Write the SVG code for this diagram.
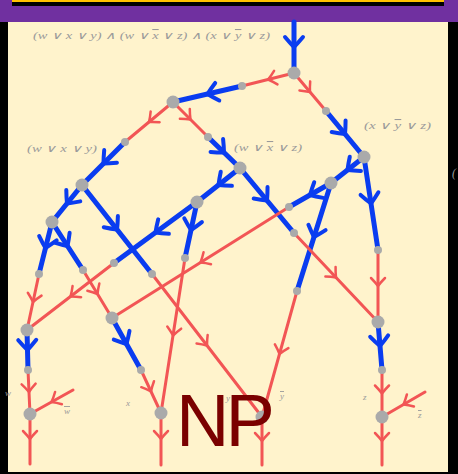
<svg xmlns="http://www.w3.org/2000/svg" width="458" height="474" viewBox="0 0 458 474">
<style>
.b{fill:none;stroke:#0a3cf0;stroke-width:5;stroke-linecap:round;marker-mid:url(#ab)}
.r{fill:none;stroke:#f25555;stroke-width:3;stroke-linecap:round;marker-mid:url(#ar)}
.n{fill:#aaaaaa}
.lab{font-family:"Liberation Serif",serif;font-style:italic;fill:#9a9a9a}
.o{text-decoration:overline}
</style>
<defs>
<marker id="ab" markerUnits="userSpaceOnUse" markerWidth="20" markerHeight="20" refX="0" refY="0" orient="auto" overflow="visible">
<path d="M-10,-9 Q-4,-4 0,0 Q-4,4 -10,9" fill="none" stroke="#0a3cf0" stroke-width="4" stroke-linecap="round"/>
</marker>
<marker id="ar" markerUnits="userSpaceOnUse" markerWidth="20" markerHeight="20" refX="0" refY="0" orient="auto" overflow="visible">
<path d="M-8,-7 Q-4,-3 0,0 Q-4,3 -8,7" fill="none" stroke="#f25555" stroke-width="2.5" stroke-linecap="round"/>
</marker>
</defs>
<rect width="458" height="474" fill="#000"/>
<rect x="0" y="0" width="458" height="22" fill="#7030a0"/>
<rect x="12" y="0" width="432" height="6" fill="#000"/>
<rect x="12" y="0" width="432" height="2" fill="#ffc000"/>
<rect x="8" y="22" width="440" height="450" fill="#fff3cc"/>

<g id="connectors">
<polyline class="b" points="294,22 294,47 294,73"/>
<polyline class="b" points="242,86 207.5,94 173,102"/>
<polyline class="b" points="326,111 345,134 364,157"/>
<polyline class="b" points="125,142 103.5,163.5 82,185"/>
<polyline class="b" points="208,137 224,152.5 240,168"/>
<polyline class="b" points="364,157 347.5,170 331,183"/>
<polyline class="b" points="331,183 310,195 289,207"/>
<polyline class="b" points="364,157 371,203.5 378,250"/>
<polyline class="b" points="331,183 314,237 297,291"/>
<polyline class="b" points="240,168 267,200.5 294,233"/>
<polyline class="b" points="240,168 218.5,185 197,202"/>
<polyline class="b" points="197,202 155.5,232.5 114,263"/>
<polyline class="b" points="197,202 191,230 185,258"/>
<polyline class="b" points="82,185 67,203.5 52,222"/>
<polyline class="b" points="82,185 117,229.5 152,274"/>
<polyline class="b" points="52,222 45.5,248 39,274"/>
<polyline class="b" points="52,222 67.5,246 83,270"/>
<polyline class="b" points="27,330 27.5,350 28,370"/>
<polyline class="b" points="112,318 126.5,344 141,370"/>
<polyline class="b" points="378,322 380,346 382,370"/>

<polyline class="r" points="294,73 268,79.5 242,86"/>
<polyline class="r" points="294,73 310,92 326,111"/>
<polyline class="r" points="173,102 149,122 125,142"/>
<polyline class="r" points="173,102 190.5,119.5 208,137"/>
<polyline class="r" points="289,207 200.5,262.5 112,318"/>
<polyline class="r" points="378,250 378,286 378,322"/>
<polyline class="r" points="297,291 279.5,354 262,417"/>
<polyline class="r" points="294,233 336,277.5 378,322"/>
<polyline class="r" points="114,263 70.5,296.5 27,330"/>
<polyline class="r" points="185,258 173,335.5 161,413"/>
<polyline class="r" points="152,274 207,345.5 262,417"/>
<polyline class="r" points="39,274 33,302 27,330"/>
<polyline class="r" points="83,270 97.5,294 112,318"/>
<polyline class="r" points="28,370 29,392 30,414"/>
<polyline class="r" points="73,390 51.5,402 30,414"/>
<polyline class="r" points="30,414 30,439 30,464"/>
<polyline class="r" points="141,370 151,391.5 161,413"/>
<polyline class="r" points="161,413 161,439 161,465"/>
<polyline class="r" points="262,417 262,441 262,465"/>
<polyline class="r" points="382,370 382,393.5 382,417"/>
<polyline class="r" points="425,392 403.5,404.5 382,417"/>
<polyline class="r" points="382,417 382,441 382,465"/>
</g>

<g id="N0"><circle class="n" cx="294" cy="73" r="6.5"/></g>
<g id="N1"><circle class="n" cx="173" cy="102" r="6.5"/></g>
<g id="N2"><circle class="n" cx="364" cy="157" r="6.5"/></g>
<g id="N3"><circle class="n" cx="82" cy="185" r="6.5"/></g>
<g id="N4"><circle class="n" cx="240" cy="168" r="6.5"/></g>
<g id="N5"><circle class="n" cx="331" cy="183" r="6.5"/></g>
<g id="N6"><circle class="n" cx="197" cy="202" r="6.5"/></g>
<g id="N7"><circle class="n" cx="52" cy="222" r="6.5"/></g>
<g id="L1"><circle class="n" cx="27" cy="330" r="6.5"/></g>
<g id="L2"><circle class="n" cx="112" cy="318" r="6.5"/></g>
<g id="L3"><circle class="n" cx="378" cy="322" r="6.5"/></g>
<g id="B1"><circle class="n" cx="30" cy="414" r="6.5"/></g>
<g id="B2"><circle class="n" cx="161" cy="413" r="6.5"/></g>
<g id="B3"><circle class="n" cx="262" cy="417" r="6.5"/></g>
<g id="B4"><circle class="n" cx="382" cy="417" r="6.5"/></g>
<g id="s1"><circle class="n" cx="242" cy="86" r="4"/></g>
<g id="s2"><circle class="n" cx="326" cy="111" r="4"/></g>
<g id="s3"><circle class="n" cx="125" cy="142" r="4"/></g>
<g id="s4"><circle class="n" cx="208" cy="137" r="4"/></g>
<g id="s5"><circle class="n" cx="289" cy="207" r="4"/></g>
<g id="s6"><circle class="n" cx="378" cy="250" r="4"/></g>
<g id="s7"><circle class="n" cx="297" cy="291" r="4"/></g>
<g id="s8"><circle class="n" cx="294" cy="233" r="4"/></g>
<g id="s9"><circle class="n" cx="114" cy="263" r="4"/></g>
<g id="s10"><circle class="n" cx="185" cy="258" r="4"/></g>
<g id="s11"><circle class="n" cx="152" cy="274" r="4"/></g>
<g id="s12"><circle class="n" cx="39" cy="274" r="4"/></g>
<g id="s13"><circle class="n" cx="83" cy="270" r="4"/></g>
<g id="s14"><circle class="n" cx="28" cy="370" r="4"/></g>
<g id="s15"><circle class="n" cx="141" cy="370" r="4"/></g>
<g id="s16"><circle class="n" cx="382" cy="370" r="4"/></g>

<g id="labels">
<text class="lab" x="33" y="39" font-size="10.5" textLength="237" lengthAdjust="spacingAndGlyphs">(w ∨ x ∨ y) ∧ (w ∨ <tspan class="o">x</tspan> ∨ z) ∧ (x ∨ <tspan class="o">y</tspan> ∨ z)</text>
<text class="lab" x="27" y="152" font-size="10.5" textLength="70" lengthAdjust="spacingAndGlyphs">(w ∨ x ∨ y)</text>
<text class="lab" x="234" y="151" font-size="10.5" textLength="68" lengthAdjust="spacingAndGlyphs">(w ∨ <tspan class="o">x</tspan> ∨ z)</text>
<text class="lab" x="364" y="129" font-size="10.5" textLength="67" lengthAdjust="spacingAndGlyphs">(x ∨ <tspan class="o">y</tspan> ∨ z)</text>
<text class="lab" x="452" y="177" font-size="12">(</text>
<text class="lab" x="5" y="396" font-size="9">w</text>
<text class="lab" x="64" y="414" font-size="9"><tspan class="o">w</tspan></text>
<text class="lab" x="126" y="406" font-size="9">x</text>
<text class="lab" x="226" y="401" font-size="9">y</text>
<text class="lab" x="280" y="399" font-size="9"><tspan class="o">y</tspan></text>
<text class="lab" x="363" y="400" font-size="9">z</text>
<text class="lab" x="418" y="418" font-size="9"><tspan class="o">z</tspan></text>
</g>

<text x="176" y="446" font-family="Liberation Sans, Arial, sans-serif" font-size="74" fill="#7a0000" letter-spacing="-4">NP</text>
</svg>
